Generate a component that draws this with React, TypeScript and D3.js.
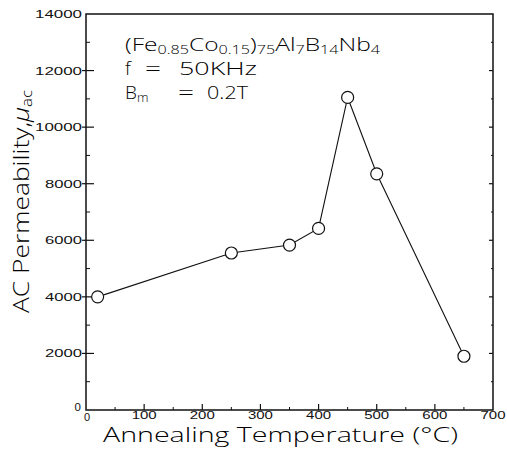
import React from "react";
import * as d3 from "d3";

const temps = [20, 250, 350, 400, 450, 500, 650];
const permeability = [4000, 5550, 5830, 6420, 11050, 8350, 1900];
const xTicks = [0, 100, 200, 300, 400, 500, 600, 700];
const xMinor = [50, 150, 250, 350, 450, 550, 650];
const yTicks = [0, 2000, 4000, 6000, 8000, 10000, 12000, 14000];
const yMinor = [1000, 3000, 5000, 7000, 9000, 11000, 13000];

const W = 507;
const H = 458;
const FONT = "'Open Sans', 'Liberation Sans', Arial, sans-serif";
const TICKFONT = "'Liberation Sans', Arial, sans-serif";

export default function App() {
  const x = d3.scaleLinear().domain([0, 700]).range([86, 493]);
  const y = d3.scaleLinear().domain([0, 14000]).range([410, 14]);
  const line = d3
    .line<number>()
    .x((_, i) => x(temps[i]))
    .y((d) => y(d));

  return (
    <svg
      width={W}
      height={H}
      style={{ position: "absolute", left: 0, top: 0, background: "#fff" }}
      fontFamily={FONT}
    >
      <rect x={0} y={0} width={W} height={H} fill="#fff" />
      {/* frame */}
      <rect
        x={x(0)}
        y={y(14000)}
        width={x(700) - x(0)}
        height={y(0) - y(14000)}
        fill="none"
        stroke="#111"
        strokeWidth={1.5}
      />
      {/* y ticks */}
      {yTicks.map((t) => (
        <g key={"y" + t}>
          {t !== 0 && t !== 14000 && (
            <>
              <line x1={x(0) - 4} x2={x(0) + 8} y1={y(t)} y2={y(t)} stroke="#111" strokeWidth={1.2} />
              <line x1={x(700) - 4} x2={x(700)} y1={y(t)} y2={y(t)} stroke="#111" strokeWidth={1.2} />
            </>
          )}
          <text
            x={t === 0 ? 81 : 82}
            y={t === 0 ? y(t) + 1 : y(t) + 4}
            textAnchor="end"
            fontSize={11.5}
            fontFamily={TICKFONT}
            textLength={t === 0 ? undefined : t >= 10000 ? 47 : 37}
            lengthAdjust="spacingAndGlyphs"
            fill="#111"
          >
            {t}
          </text>
        </g>
      ))}
      {yMinor.map((t) => (
        <g key={"ym" + t}>
          <line x1={x(0)} x2={x(0) + 4} y1={y(t)} y2={y(t)} stroke="#111" strokeWidth={1} />
          <line x1={x(700) - 2} x2={x(700)} y1={y(t)} y2={y(t)} stroke="#111" strokeWidth={1} />
        </g>
      ))}
      {/* x ticks */}
      {xTicks.map((t) => (
        <g key={"x" + t}>
          {t !== 0 && t !== 700 && (
            <line x1={x(t)} x2={x(t)} y1={y(0)} y2={y(0) - 6} stroke="#111" strokeWidth={1.2} />
          )}
          <text
            x={x(t) + (t === 0 ? 1 : 0)}
            y={t === 0 ? 421 : 419}
            textAnchor="middle"
            fontSize={11}
            fontFamily={TICKFONT}
            textLength={t === 0 ? undefined : 25}
            lengthAdjust="spacingAndGlyphs"
            fill="#111"
          >
            {t}
          </text>
        </g>
      ))}
      {xMinor.map((t) => (
        <line key={"xm" + t} x1={x(t)} x2={x(t)} y1={y(0)} y2={y(0) - 3} stroke="#111" strokeWidth={1} />
      ))}
      {/* data */}
      <path d={line(permeability) || ""} fill="none" stroke="#111" strokeWidth={1.1} />
      {permeability.map((v, i) => (
        <circle key={i} cx={x(temps[i])} cy={y(v)} r={6} fill="#fff" stroke="#111" strokeWidth={1.2} />
      ))}
      {/* annotation */}
      <text x={125} y={51} fontSize={19} fontWeight={300} textLength={255} lengthAdjust="spacingAndGlyphs" fill="#000">
        (Fe<tspan fontSize={12.5} dy={3}>0.85</tspan>
        <tspan dy={-3}>Co</tspan>
        <tspan fontSize={12.5} dy={3}>0.15</tspan>
        <tspan dy={-3}>)</tspan>
        <tspan fontSize={12.5} dy={3}>75</tspan>
        <tspan dy={-3}>Al</tspan>
        <tspan fontSize={12.5} dy={3}>7</tspan>
        <tspan dy={-3}>B</tspan>
        <tspan fontSize={12.5} dy={3}>14</tspan>
        <tspan dy={-3}>Nb</tspan>
        <tspan fontSize={12.5} dy={3}>4</tspan>
      </text>
      <text x={125} y={75} fontSize={19} fontWeight={300} fill="#000">f</text>
      <text x={145} y={75} fontSize={19} fontWeight={300} textLength={16} lengthAdjust="spacingAndGlyphs" fill="#000">=</text>
      <text x={179} y={75} fontSize={19} fontWeight={300} textLength={78} lengthAdjust="spacingAndGlyphs" fill="#000">50KHz</text>
      <text x={125} y={99} fontSize={19} fontWeight={300} fill="#000">
        B<tspan fontSize={13} dy={3}>m</tspan>
      </text>
      <text x={178} y={99} fontSize={19} fontWeight={300} textLength={16} lengthAdjust="spacingAndGlyphs" fill="#000">=</text>
      <text x={207} y={99} fontSize={19} fontWeight={300} textLength={41} lengthAdjust="spacingAndGlyphs" fill="#000">0.2T</text>
      {/* axis titles */}
      <text x={103} y={442} fontSize={20} fontWeight={300} textLength={355} lengthAdjust="spacingAndGlyphs" fill="#000">
        Annealing Temperature (°C)
      </text>
      <text
        transform="translate(29,313) rotate(-90)"
        x={0}
        y={0}
        fontSize={22}
        fontWeight={300}
        textLength={223}
        lengthAdjust="spacingAndGlyphs"
        fill="#000"
      >
        AC Permeability,<tspan fontStyle="italic">μ</tspan>
        <tspan fontSize={14} dy={3}>ac</tspan>
      </text>
    </svg>
  );
}
